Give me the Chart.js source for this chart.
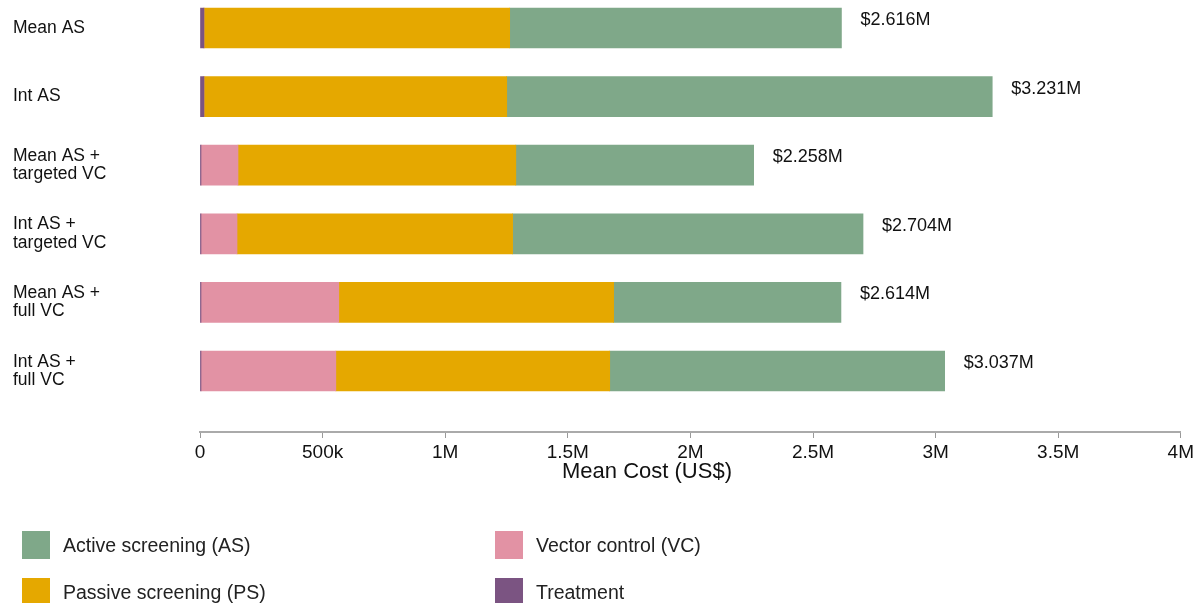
<!DOCTYPE html>
<html>
<head>
<meta charset="utf-8">
<script src="https://cdn.jsdelivr.net/npm/chart.js@4.4.0/dist/chart.umd.min.js"></script>
<style>
    body { margin: 0; background: #fff; font-family: "Liberation Sans", Arial, sans-serif; }
    #wrap { position: relative; width: 1197px; height: 603px; overflow: hidden; }
    #chartBox { position: absolute; left: 0; top: 0; width: 1197px; height: 603px; }
    .legend-item { position: absolute; display: flex; align-items: center; font-size: 19.5px; color: #222; }
    .legend-box { width: 28px; height: 28px; margin-right: 13px; box-sizing: border-box; }
</style>
</head>
<body>
<div id="wrap">
    <div id="chartBox"><canvas id="costChart"></canvas></div>
    <div id="legend"></div>
</div>
<script>
// Data (US$)
const scenarios = [
    ['Mean AS'],
    ['Int AS'],
    ['Mean AS +', 'targeted VC'],
    ['Int AS +', 'targeted VC'],
    ['Mean AS +', 'full VC'],
    ['Int AS +', 'full VC']
];
const treatmentCost = [16000, 16000, 4000, 4000, 4000, 4000];
const vectorControlCost = [0, 0, 151000, 147000, 562000, 550000];
const passiveScreeningCost = [1247000, 1235000, 1133000, 1124000, 1121000, 1117000];
const activeScreeningCost = [1353000, 1980000, 970000, 1429000, 927000, 1366000];
const totalLabels = ['$2.616M', '$3.231M', '$2.258M', '$2.704M', '$2.614M', '$3.037M'];
const xTickLabels = ['0', '500k', '1M', '1.5M', '2M', '2.5M', '3M', '3.5M', '4M'];

const FONT = '"Liberation Sans", Arial, sans-serif';

const colors = {
    as: '#7fa889',
    ps: '#e5a800',
    vc: '#e292a4',
    tr: '#7b5482'
};

function toPoints(values) {
    return values.map((v, i) => ({ x: v, y: i }));
}

const datasets = [
    { key: 'tr', label: 'Treatment', data: toPoints(treatmentCost), backgroundColor: colors.tr },
    { key: 'vc', label: 'Vector control (VC)', data: toPoints(vectorControlCost), backgroundColor: colors.vc },
    { key: 'ps', label: 'Passive screening (PS)', data: toPoints(passiveScreeningCost), backgroundColor: colors.ps },
    { key: 'as', label: 'Active screening (AS)', data: toPoints(activeScreeningCost), backgroundColor: colors.as }
].map(d => Object.assign(d, { barThickness: 40, borderWidth: 0 }));

// Total label at the end of each bar + x axis title
const totalsPlugin = {
    id: 'totals',
    afterDatasetsDraw(chart) {
        const { ctx, scales } = chart;
        ctx.save();
        ctx.font = '18px ' + FONT;
        ctx.fillStyle = '#111';
        ctx.textBaseline = 'middle';
        ctx.textAlign = 'left';
        scenarios.forEach((s, i) => {
            const total = treatmentCost[i] + vectorControlCost[i] + passiveScreeningCost[i] + activeScreeningCost[i];
            const x = scales.x.getPixelForValue(total) + 19;
            const y = scales.y.getPixelForValue(i) - 8;
            ctx.fillText(totalLabels[i], x, y);
        });
        ctx.font = '22px ' + FONT;
        ctx.textAlign = 'center';
        ctx.fillText('Mean Cost (US$)', 647, chart.chartArea.bottom + 40);
        ctx.restore();
    }
};

const ctx = document.getElementById('costChart').getContext('2d');
const chart = new Chart(ctx, {
    type: 'bar',
    data: { datasets: datasets },
    options: {
        indexAxis: 'y',
        responsive: true,
        maintainAspectRatio: false,
        animation: false,
        layout: { padding: { left: 13, right: 15, top: 5, bottom: 131 } },
        plugins: {
            legend: { display: false },
            tooltip: { enabled: false }
        },
        scales: {
            x: {
                stacked: true,
                min: 0,
                max: 4000000,
                afterFit: function(scale) {
                    scale.height = 40;
                },
                ticks: {
                    stepSize: 500000,
                    color: '#111',
                    font: { size: 19, family: FONT },
                    padding: 3,
                    maxRotation: 0,
                    callback: function(value) {
                        return xTickLabels[Math.round(value / 500000)];
                    }
                },
                grid: {
                    drawOnChartArea: false,
                    drawTicks: true,
                    tickLength: 6,
                    color: '#999',
                    lineWidth: 1
                },
                border: { color: '#aaa', width: 2 }
            },
            y: {
                type: 'linear',
                stacked: true,
                reverse: true,
                offset: false,
                min: -0.335,
                max: 5.889,
                afterBuildTicks: function(scale) {
                    scale.ticks = scenarios.map((s, i) => ({ value: i }));
                },
                afterFit: function(scale) {
                    scale.width = 187;
                    scale.paddingTop = 0;
                    scale.paddingBottom = 0;
                },
                ticks: {
                    crossAlign: 'far',
                    color: '#111',
                    font: { size: 17.5, family: FONT, lineHeight: 1.05 },
                    callback: function(value) {
                        const s = scenarios[value];
                        return s ? (s.length > 1 ? s : s[0]) : '';
                    }
                },
                grid: { display: false, drawTicks: false },
                border: { display: false }
            }
        }
    },
    plugins: [totalsPlugin]
});

// HTML legend in two columns
const legendOrder = ['as', 'vc', 'ps', 'tr'];
const legendPos = [[22, 531], [495, 531], [22, 578], [495, 578]];
const legendEl = document.getElementById('legend');
legendOrder.forEach((key, i) => {
    const ds = datasets.find(d => d.key === key);
    const item = document.createElement('div');
    item.className = 'legend-item';
    item.style.left = legendPos[i][0] + 'px';
    item.style.top = legendPos[i][1] + 'px';
    item.innerHTML = '<div class="legend-box" style="background:' + ds.backgroundColor + '"></div><span>' + ds.label + '</span>';
    legendEl.appendChild(item);
});
</script>
</body>
</html>
